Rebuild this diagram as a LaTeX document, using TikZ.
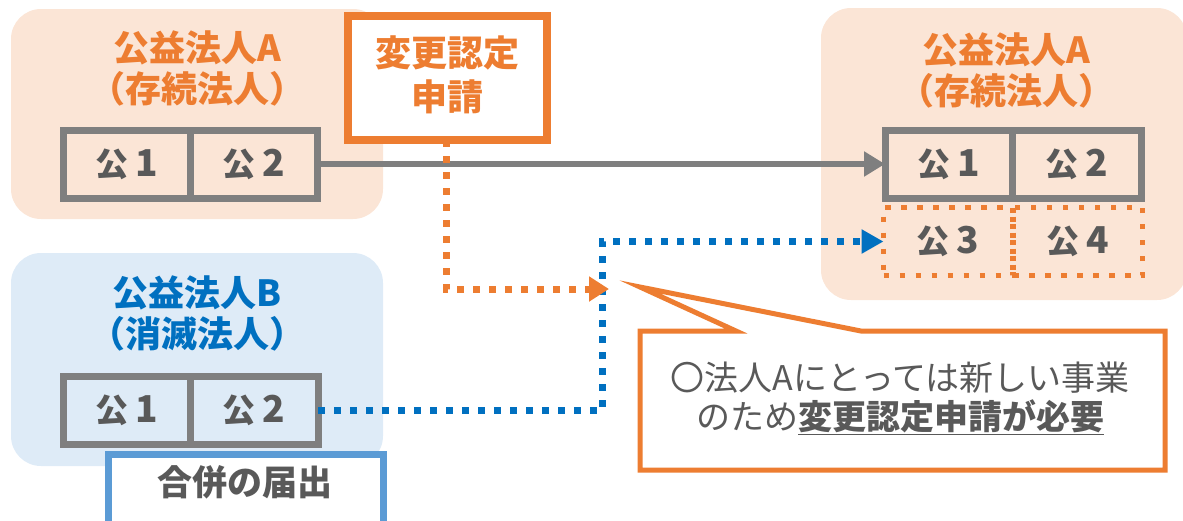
\documentclass[tikz,border=0pt]{standalone}
\usepackage{fontspec}
\setmainfont{Noto Sans CJK JP}
\usetikzlibrary{arrows.meta}
\definecolor{orA}{HTML}{ED7D31}
\definecolor{fillA}{HTML}{FBE5D6}
\definecolor{blueB}{HTML}{0070C0}
\definecolor{fillB}{HTML}{DEEBF7}
\definecolor{grayL}{HTML}{7F7F7F}
\definecolor{txtG}{HTML}{595959}
\definecolor{blueBox}{HTML}{5B9BD5}
\newcommand{\kou}[1]{公\hspace{7pt}{\fontsize{37}{37}\selectfont #1}}
\begin{document}
\begin{tikzpicture}[x=1pt,y=-1pt,
  every node/.style={inner sep=0pt,outer sep=0pt},
  grpbox/.style={rounded corners=30pt,draw=none,minimum width=#1},
  titleA/.style={text=orA,font=\fontsize{36}{41}\selectfont\bfseries,align=center},
  titleB/.style={text=blueB,font=\fontsize{36}{41}\selectfont\bfseries,align=center},
  cellbox/.style={draw=grayL,line width=7pt,minimum height=68pt,text=txtG,font=\fontsize{33}{36}\selectfont\bfseries},
  newcell/.style={draw=orA,line width=5.5pt,dash pattern=on 5.5pt off 10.5pt,minimum height=68pt,text=txtG,font=\fontsize{33}{36}\selectfont\bfseries},
  orbox/.style={draw=orA,line width=8pt,fill=white},
  bluebox/.style={draw=blueBox,line width=7pt,fill=white},
  grayarrow/.style={draw=grayL,line width=6pt,-{Triangle[length=21pt,width=24pt]}},
  bluedot/.style={draw=blueB,line width=7pt,dash pattern=on 7pt off 9pt,-{Triangle[length=22pt,width=23pt,fill=blueB]}},
  ordot/.style={draw=orA,line width=7pt,dash pattern=on 7pt off 9pt,-{Triangle[length=20pt,width=24pt,fill=orA]}},
  callout/.style={draw=orA,line width=5pt,fill=white,line join=miter}
]
\useasboundingbox (0,0) rectangle (1183,520);

% groups
\node[grpbox=372pt,fill=fillA,minimum height=210pt] (gA) at (197,114) {};
\node[grpbox=372pt,fill=fillB,minimum height=213pt] (gB) at (197,359.5) {};
\node[grpbox=366pt,fill=fillA,minimum height=292pt] (gR) at (1004,154) {};

% titles
\node[titleA] (tA) at (197,68) {公益法人A\\\kern-0.25em（存続法人）\kern-0.25em};
\node[titleA] (tR) at (1006,70) {公益法人A\\\kern-0.25em（存続法人）\kern-0.25em};
\node[titleB] (tB) at (197,313) {公益法人B\\\kern-0.25em（消滅法人）\kern-0.25em};

% cells left A
\node[cellbox,minimum width=127pt] (a1) at (126.5,164) {\kou{1}};
\node[cellbox,minimum width=127pt] (a2) at (253.5,164) {\kou{2}};
% cells B
\node[cellbox,minimum width=127pt] (b1) at (126.5,410.5) {\kou{1}};
\node[cellbox,minimum width=128pt] (b2) at (254,410.5) {\kou{2}};
% cells right
\node[cellbox,minimum width=127pt] (r1) at (948.5,164) {\kou{1}};
\node[cellbox,minimum width=129pt] (r2) at (1076.5,164) {\kou{2}};
\node[newcell,minimum width=129.5pt] (r3) at (948.25,241.5) {\kou{3}};
\node[newcell,minimum width=129.5pt] (r4) at (1077.75,241.5) {\kou{4}};

% change application box
\node[orbox,minimum width=199pt,minimum height=124pt] (app) at (447.5,78) {};
\node[text=orA,font=\fontsize{36}{44}\selectfont\bfseries,align=center] (appt) at (447.5,75) {変更認定\\申請};

% merger notice box
\node[bluebox,minimum width=275pt,minimum height=70pt] (mrg) at (245.5,489) {};
\node[text=txtG,font=\fontsize{35}{40}\selectfont\bfseries] (mrgt) at (245,482) {合併の届出};

% connectors
\draw[grayarrow] (a2.east) -- (r1.west);
\coordinate (bturn) at (602,410.5);
\draw[bluedot] (b2.east) -- (bturn) |- (r3.west);
\coordinate (oturn) at (446,289);
\coordinate (oend) at (609,289);
\draw[ordot] (app.south -| oturn) -- (oturn) -- (oend);

% callout
\coordinate (c1) at (640,331);
\coordinate (c2) at (736,331);
\coordinate (ctip) at (640,287);
\coordinate (c3) at (861,331);
\coordinate (c4) at (1165,331);
\coordinate (c5) at (1165,470);
\coordinate (c6) at (640,470);
\draw[callout] (c1) -- (c2) -- (ctip) -- (c3) -- (c4) -- (c5) -- (c6) -- cycle;
\node[text=txtG,font=\fontsize{34}{39}\selectfont,align=center] (ctext) at (900,398)
  {〇法人Aにとっては新しい事業\\のため\underline{\textbf{変更認定申請が必要}}};
\end{tikzpicture}
\end{document}
